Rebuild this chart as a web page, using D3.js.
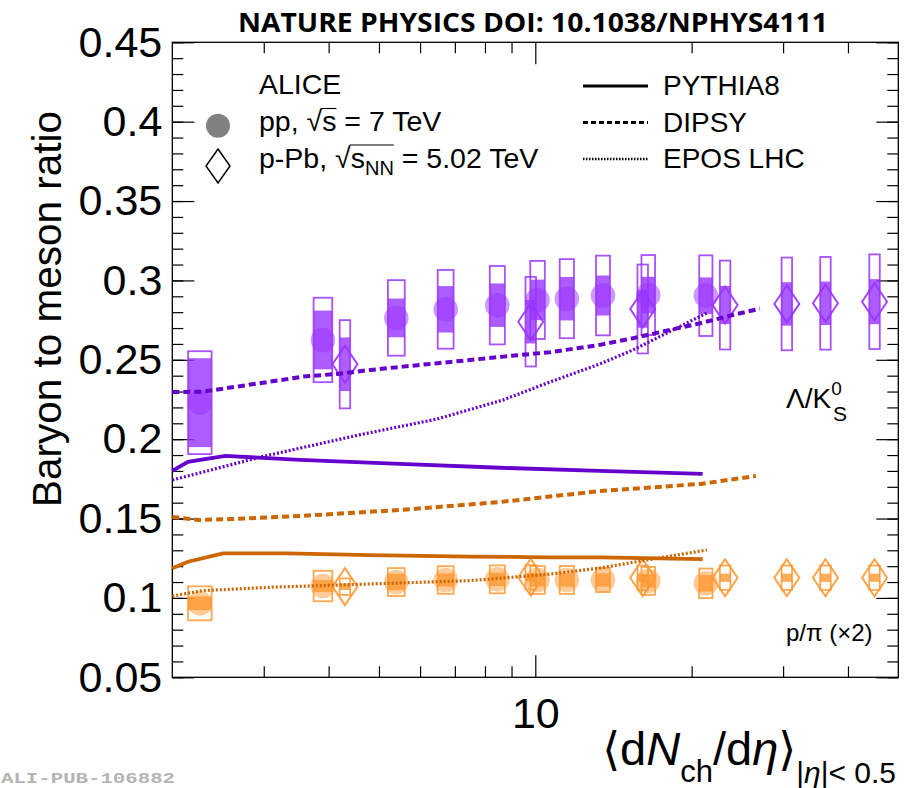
<!DOCTYPE html>
<html>
<head>
<meta charset="utf-8">
<script src="https://cdn.jsdelivr.net/npm/d3@7"></script>
<style>
  body { margin: 0; background: #fff; }
  svg { display: block; }
  text { font-family: "Liberation Sans", Arial, Helvetica, sans-serif; fill: #000; }
</style>
</head>
<body>
<div id="chart"></div>
<script>
// ---- data ----
// charged-particle multiplicity classes
const ppMult = [2.26, 3.90, 5.40, 6.72, 8.45, 10.1, 11.5, 13.5, 16.5, 21.3];
const pPbMult = [4.3, 9.8, 16.1, 23.2, 30.5, 36.2, 45.0];

// Lambda/K0s
const lkPP = [0.223, 0.2625, 0.2764, 0.2818, 0.2844, 0.2877, 0.2885, 0.2905, 0.2908, 0.2904];
const lkPPSysTot = [0.0324, 0.0266, 0.0238, 0.0248, 0.0247, 0.0246, 0.0249, 0.0251, 0.0252, 0.0254];
const lkPPSysUnc = [0.028, 0.0185, 0.0122, 0.0146, 0.0137, 0.0128, 0.0137, 0.0126, 0.0115, 0.0115];
const lkPPb = [0.2472, 0.274, 0.282, 0.2845, 0.2852, 0.2856, 0.2866];
const lkPPbSysTot = [0.0278, 0.0282, 0.028, 0.028, 0.0292, 0.0292, 0.0298];
const lkPPbSysUnc = [0.0169, 0.0137, 0.0118, 0.012, 0.0137, 0.0137, 0.0142];

// p/pi (x2)
const ppiPP = [0.0966, 0.1075, 0.110, 0.1113, 0.1117, 0.1113, 0.1113, 0.1113, 0.1107, 0.1092];
const ppiPPSysTot = [0.0107, 0.0096, 0.0088, 0.0087, 0.0088, 0.0088, 0.0088, 0.0076, 0.0088, 0.0093];
const ppiPPSysUnc = [0.0044, 0.0038, 0.0052, 0.0042, 0.0042, 0.0042, 0.0042, 0.0042, 0.0042, 0.0052];
const ppiPPb = [0.1071, 0.113, 0.1127, 0.1127, 0.1127, 0.1127, 0.1127];
const ppiPPbSysTot = [0.0052, 0.0077, 0.0077, 0.0077, 0.0077, 0.0077, 0.0077];
const ppiPPbSysUnc = [0.0021, 0.0026, 0.0026, 0.0026, 0.0026, 0.0026, 0.0026];

// model curves
const lkPythiaX = [2.0, 2.144, 2.53, 3.52, 5.49, 8.55, 13.3, 21.0];
const lkPythiaY = [0.18, 0.1857, 0.1895, 0.187, 0.1845, 0.182, 0.18, 0.1781];
const lkDipsyX = [2.0, 2.29, 2.66, 3.08, 3.57, 4.15, 4.81, 5.56, 6.47, 7.49, 8.67, 10.67, 13.32, 15.42, 18.4, 20.76, 24.0, 27.06];
const lkDipsyY = [0.2297, 0.2299, 0.2331, 0.2362, 0.2394, 0.2411, 0.2436, 0.2457, 0.2478, 0.2499, 0.252, 0.2548, 0.2594, 0.2636, 0.2692, 0.273, 0.2782, 0.2822];
const lkEposX = [2.0, 2.98, 4.58, 6.47, 8.67, 10.67, 13.32, 15.42, 17.93, 21.4];
const lkEposY = [0.1743, 0.189, 0.2027, 0.2127, 0.2247, 0.236, 0.2474, 0.2562, 0.2669, 0.2795];

const ppiPythiaX = [2.0, 2.144, 2.504, 3.326, 4.81, 7.49, 10.67, 13.32, 21.0];
const ppiPythiaY = [0.1187, 0.1228, 0.1281, 0.1281, 0.127, 0.126, 0.1256, 0.1256, 0.1245];
const ppiDipsyX = [2.0, 2.25, 2.6, 3.52, 5.49, 8.55, 13.3, 20.8, 26.6];
const ppiDipsyY = [0.151, 0.1491, 0.1497, 0.1516, 0.1554, 0.1604, 0.1673, 0.1718, 0.1768];
const ppiEposX = [2.0, 2.29, 3.08, 4.81, 7.49, 8.55, 10.67, 13.32, 16.12, 21.4];
const ppiEposY = [0.1012, 0.1046, 0.1067, 0.1088, 0.1109, 0.1124, 0.115, 0.1188, 0.1235, 0.1302];

// axis ticks
const yMajorTicks = [0.05, 0.1, 0.15, 0.2, 0.25, 0.3, 0.35, 0.4, 0.45];
const yMinorTicks = d3.range(5, 46).map(d => d / 100);
const xMajorTicks = [10];
const xMinorTicks = [3, 4, 5, 6, 7, 8, 9, 20, 30, 40];

// ---- layout ----
const W = 905, H = 788;
const plot = { left: 172.3, right: 898.3, top: 42.3, bottom: 677.3 };

const purple = "#9933ff", purpleModel = "#6600cc";
const orange = "#ff9933", orangeModel = "#cc6600";

const svg = d3.select("#chart").append("svg")
    .attr("width", W)
    .attr("height", H);

const x = d3.scaleLog().domain([2, 50]).range([plot.left, plot.right]);
const y = d3.scaleLinear().domain([0.05, 0.45]).range([plot.bottom, plot.top]);

// Title
svg.append("text")
    .attr("x", 533).attr("y", 32)
    .attr("text-anchor", "middle")
    .style("font-family", "'Open Sans', 'Noto Sans', sans-serif")
    .style("font-weight", "bold")
    .style("font-size", "27px")
    .attr("textLength", 590)
    .attr("lengthAdjust", "spacingAndGlyphs")
    .text("NATURE PHYSICS DOI: 10.1038/NPHYS4111");

// Axes (ticks point into the frame)
const axisG = svg.append("g");
const lbl = 43;

axisG.append("g")
    .attr("transform", `translate(${plot.left},0)`)
    .call(d3.axisLeft(y).tickValues(yMinorTicks).tickSize(-11).tickFormat(""));
axisG.append("g")
    .attr("transform", `translate(${plot.left},0)`)
    .call(d3.axisLeft(y).tickValues(yMajorTicks).tickSize(-22).tickPadding(10)
        .tickFormat(d => d3.format("")(+d.toFixed(2))));
axisG.append("g")
    .attr("transform", `translate(${plot.right},0)`)
    .call(d3.axisRight(y).tickValues(yMinorTicks).tickSize(-11).tickFormat(""));
axisG.append("g")
    .attr("transform", `translate(${plot.right},0)`)
    .call(d3.axisRight(y).tickValues(yMajorTicks).tickSize(-22).tickFormat(""));

axisG.append("g")
    .attr("transform", `translate(0,${plot.bottom})`)
    .call(d3.axisBottom(x).tickValues(xMinorTicks).tickSize(-11).tickFormat(""));
axisG.append("g")
    .attr("transform", `translate(0,${plot.bottom})`)
    .call(d3.axisBottom(x).tickValues(xMajorTicks).tickSize(-22).tickPadding(20).tickFormat(d3.format("d")));
axisG.append("g")
    .attr("transform", `translate(0,${plot.top})`)
    .call(d3.axisTop(x).tickValues(xMinorTicks).tickSize(-11).tickFormat(""));
axisG.append("g")
    .attr("transform", `translate(0,${plot.top})`)
    .call(d3.axisTop(x).tickValues(xMajorTicks).tickSize(-22).tickFormat(""));

axisG.selectAll(".domain").remove();
axisG.selectAll(".tick line").attr("stroke", "#000").attr("stroke-width", 1.2);
axisG.selectAll(".tick text")
    .style("font-family", "'Liberation Sans', Arial, sans-serif")
    .style("font-size", lbl + "px")
    .attr("fill", "#000");

// frame
svg.append("rect")
    .attr("x", plot.left).attr("y", plot.top)
    .attr("width", plot.right - plot.left)
    .attr("height", plot.bottom - plot.top)
    .attr("fill", "none")
    .attr("stroke", "#000")
    .attr("stroke-width", 1.3);

// ---- data points ----
const dataG = svg.append("g");

function drawBoxes(xs, ys, tot, unc, color, widthFn) {
    const g = dataG.append("g");
    xs.forEach((xv, i) => {
        const w = widthFn(xv);
        g.append("rect")
            .attr("x", x(xv) - w / 2)
            .attr("y", y(ys[i] + unc[i]))
            .attr("width", w)
            .attr("height", y(ys[i] - unc[i]) - y(ys[i] + unc[i]))
            .attr("fill", color)
            .attr("fill-opacity", 0.8);
        g.append("rect")
            .attr("x", x(xv) - w / 2)
            .attr("y", y(ys[i] + tot[i]))
            .attr("width", w)
            .attr("height", y(ys[i] - tot[i]) - y(ys[i] + tot[i]))
            .attr("fill", "none")
            .attr("stroke", color)
            .attr("stroke-opacity", 0.85)
            .attr("stroke-width", 1.8);
    });
}

function drawCircles(xs, ys, color) {
    dataG.append("g").selectAll("circle")
        .data(xs)
        .enter()
        .append("circle")
        .attr("cx", d => x(d))
        .attr("cy", (d, i) => y(ys[i]))
        .attr("r", 12.3)
        .attr("fill", color)
        .attr("fill-opacity", 0.5);
}

const diamond = (cx, cy) => `M${cx},${cy - 18.5}L${cx + 12.5},${cy}L${cx},${cy + 18.5}L${cx - 12.5},${cy}Z`;

function drawDiamonds(xs, ys, color) {
    dataG.append("g").selectAll("path")
        .data(xs)
        .enter()
        .append("path")
        .attr("d", (d, i) => diamond(x(d), y(ys[i])))
        .attr("fill", "none")
        .attr("stroke", color)
        .attr("stroke-opacity", 0.9)
        .attr("stroke-width", 2);
}

const ppBoxW = xv => 12 + 26 / xv;
const pPbBoxW = () => 10.5;

drawBoxes(ppMult, lkPP, lkPPSysTot, lkPPSysUnc, purple, ppBoxW);
drawCircles(ppMult, lkPP, purple);
drawBoxes(pPbMult, lkPPb, lkPPbSysTot, lkPPbSysUnc, purple, pPbBoxW);
drawDiamonds(pPbMult, lkPPb, purple);

drawBoxes(ppMult, ppiPP, ppiPPSysTot, ppiPPSysUnc, orange, ppBoxW);
drawCircles(ppMult, ppiPP, orange);
drawBoxes(pPbMult, ppiPPb, ppiPPbSysTot, ppiPPbSysUnc, orange, pPbBoxW);
drawDiamonds(pPbMult, ppiPPb, orange);

// ---- model curves ----
const line = d3.line()
    .x(d => x(d[0]))
    .y(d => y(d[1]));

const styles = {
    solid: null,
    dashed: "7,4",
    dotted: "2,2"
};

function drawModel(xs, ys, color, style, width) {
    svg.append("path")
        .datum(xs.map((d, i) => [d, ys[i]]))
        .attr("fill", "none")
        .attr("stroke", color)
        .attr("stroke-width", width)
        .attr("stroke-dasharray", styles[style])
        .attr("d", line);
}

drawModel(lkPythiaX, lkPythiaY, purpleModel, "solid", 3.8);
drawModel(lkDipsyX, lkDipsyY, purpleModel, "dashed", 4);
drawModel(lkEposX, lkEposY, purpleModel, "dotted", 3.2);
drawModel(ppiPythiaX, ppiPythiaY, orangeModel, "solid", 3.8);
drawModel(ppiDipsyX, ppiDipsyY, orangeModel, "dashed", 4);
drawModel(ppiEposX, ppiEposY, orangeModel, "dotted", 3.2);

// ---- legend ----
const leg = svg.append("g").style("font-size", "28.5px");

leg.append("text").attr("x", 259).attr("y", 94).text("ALICE");

leg.append("circle").attr("cx", 218).attr("cy", 125.7).attr("r", 12).attr("fill", "#808080");
leg.append("path")
    .attr("d", "M218,149L230,166L218,183L206,166Z")
    .attr("fill", "none").attr("stroke", "#000").attr("stroke-width", 1.5);

const ppLabel = leg.append("text").attr("x", 259).attr("y", 131);
ppLabel.append("tspan").text("pp, √s = 7 TeV");

const pPbLabel = leg.append("text").attr("x", 259).attr("y", 167.5);
pPbLabel.append("tspan").text("p-Pb, √s");
pPbLabel.append("tspan").attr("dy", 7).style("font-size", "20px").text("NN");
pPbLabel.append("tspan").attr("dy", -7).text(" = 5.02 TeV");

// overline for the square roots
function sqrtBar(textSel, rootIdx, lastIdx, baseline) {
    const node = textSel.node();
    const r = node.getExtentOfChar(rootIdx);
    const e = node.getExtentOfChar(lastIdx);
    leg.append("line")
        .attr("x1", r.x + r.width - 1).attr("x2", e.x + e.width)
        .attr("y1", baseline - 22.5).attr("y2", baseline - 22.5)
        .attr("stroke", "#000").attr("stroke-width", 1.1);
}
sqrtBar(ppLabel, 4, 5, 131);
sqrtBar(pPbLabel, 6, 9, 167.5);

const modelLegend = [
    { name: "PYTHIA8", style: "solid", y: 86 },
    { name: "DIPSY", style: "dashed", y: 122.5 },
    { name: "EPOS LHC", style: "dotted", y: 159 }
];
const legDash = { solid: null, dashed: "5,3", dotted: "1.5,1.5" };
modelLegend.forEach(m => {
    leg.append("line")
        .attr("x1", 583).attr("x2", 648)
        .attr("y1", m.y).attr("y2", m.y)
        .attr("stroke", "#000")
        .attr("stroke-width", m.style === "dotted" ? 2.5 : 3.2)
        .attr("stroke-dasharray", legDash[m.style]);
    leg.append("text").attr("x", 663).attr("y", m.y + 9).style("font-size", "28px").text(m.name);
});

// ---- curve labels ----
const lk = svg.append("text").attr("x", 786).attr("y", 408).style("font-size", "28px");
lk.append("tspan").text("Λ/K");
lk.append("tspan").attr("dy", -13).style("font-size", "19px").text("0");
lk.append("tspan").attr("x", 833).attr("dy", 26).style("font-size", "21px").text("S");

svg.append("text").attr("x", 786).attr("y", 641).style("font-size", "24px").text("p/π (×2)");

// ---- axis titles ----
svg.append("text")
    .attr("transform", "translate(61,309) rotate(-90)")
    .attr("text-anchor", "middle")
    .style("font-size", "40.5px")
    .text("Baryon to meson ratio");

const xt = svg.append("text")
    .attr("x", 896).attr("y", 765)
    .attr("text-anchor", "end")
    .style("font-size", "47px");
xt.append("tspan").style("font-family", "'DejaVu Sans', sans-serif").style("font-size", "46px").text("⟨");
xt.append("tspan").text("d");
xt.append("tspan").style("font-style", "italic").text("N");
xt.append("tspan").attr("dy", 17).style("font-size", "31px").text("ch");
xt.append("tspan").attr("dy", -17).text("/d");
xt.append("tspan").style("font-style", "italic").text("η");
xt.append("tspan").style("font-family", "'DejaVu Sans', sans-serif").style("font-size", "46px").text("⟩");
xt.append("tspan").attr("dy", 18).style("font-size", "30px").text("|");
xt.append("tspan").style("font-size", "30px").style("font-style", "italic").text("η");
xt.append("tspan").style("font-size", "30px").text("|< 0.5");

// footer
svg.append("text")
    .attr("x", 1).attr("y", 783)
    .style("font-family", "'Liberation Mono', 'DejaVu Sans Mono', monospace")
    .style("font-weight", "bold")
    .style("font-size", "15px")
    .style("fill", "#b4b4b4")
    .attr("textLength", 174)
    .attr("lengthAdjust", "spacingAndGlyphs")
    .text("ALI-PUB-106882");
</script>
</body>
</html>
